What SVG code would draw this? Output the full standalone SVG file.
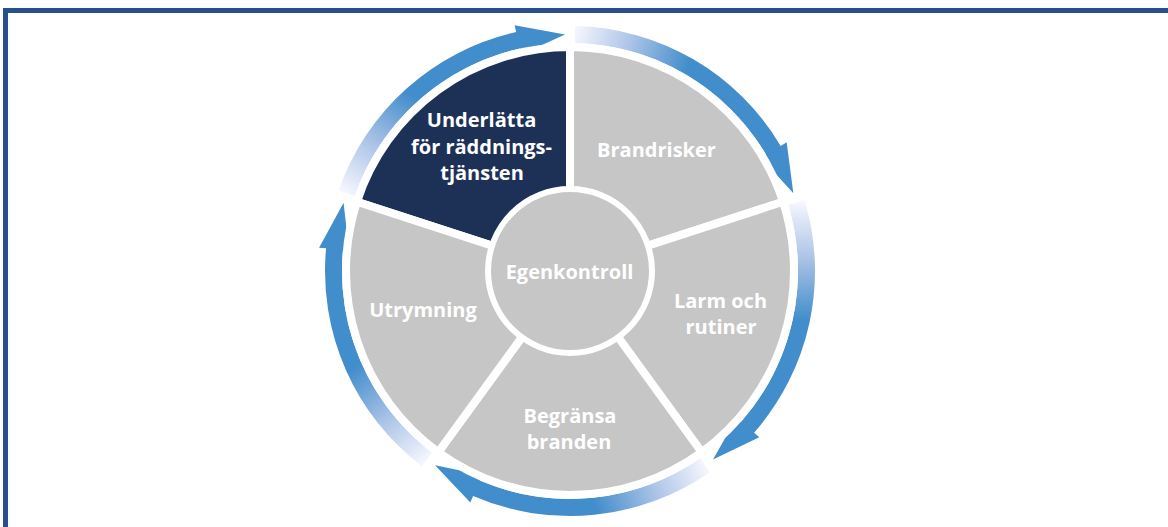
<svg xmlns="http://www.w3.org/2000/svg" xmlns:xlink="http://www.w3.org/1999/xlink" width="1168" height="527" viewBox="0 0 1168 527">
  <style>
    .seg { fill: #c6c6c6; stroke: #ffffff; stroke-width: 8; stroke-linejoin: miter; }
    .dark { fill: #1d3157; }
    .lbl { font-family: "Open Sans", "Liberation Sans", sans-serif; font-weight: bold; font-size: 20px; fill: #ffffff; text-anchor: middle; }
  </style>
  <defs>
    <linearGradient id="arrowGrad" gradientUnits="userSpaceOnUse" x1="346.6" y1="193.2" x2="412.1" y2="95.6">
      <stop offset="0" stop-color="#f4f6fd"/>
      <stop offset="0.45" stop-color="#b0c6e8"/>
      <stop offset="1" stop-color="#428dcb"/>
    </linearGradient>
    <path id="arrow" fill="url(#arrowGrad)" d="M338.63,190.43 A245,245 0 0 1 516.14,32.00 L514.60,25.17 L565.05,34.55 L521.19,54.43 L519.87,48.58 A228,228 0 0 0 354.68,196.02 Z"/>
  </defs>
  <rect x="5.5" y="10.5" width="1200" height="600" fill="none" stroke="#25508a" stroke-width="5"/>

  <g id="connectors">
    <use xlink:href="#arrow" href="#arrow"/>
    <use xlink:href="#arrow" href="#arrow" transform="rotate(72 570 271)"/>
    <use xlink:href="#arrow" href="#arrow" transform="rotate(144 570 271)"/>
    <use xlink:href="#arrow" href="#arrow" transform="rotate(216 570 271)"/>
    <use xlink:href="#arrow" href="#arrow" transform="rotate(288 570 271)"/>
  </g>

  <g id="node-underlatta">
    <path class="seg dark" d="M570,271 L356.96,201.78 A224,224 0 0 1 570,47 Z"/>
    <text class="lbl" x="481.5" y="127">Underlätta</text>
    <text class="lbl" x="481.5" y="153.5">för räddnings-</text>
    <text class="lbl" x="482" y="180">tjänsten</text>
  </g>
  <g id="node-brandrisker">
    <path class="seg" d="M570,271 L570,47 A224,224 0 0 1 783.04,201.78 Z"/>
    <text class="lbl" x="656.5" y="157">Brandrisker</text>
  </g>
  <g id="node-larm">
    <path class="seg" d="M570,271 L783.04,201.78 A224,224 0 0 1 701.66,452.22 Z"/>
    <text class="lbl" x="720.5" y="307.5">Larm och</text>
    <text class="lbl" x="721" y="334">rutiner</text>
  </g>
  <g id="node-begransa">
    <path class="seg" d="M570,271 L701.66,452.22 A224,224 0 0 1 438.34,452.22 Z"/>
    <text class="lbl" x="570" y="422.5">Begränsa</text>
    <text class="lbl" x="569" y="449">branden</text>
  </g>
  <g id="node-utrymning">
    <path class="seg" d="M570,271 L438.34,452.22 A224,224 0 0 1 356.96,201.78 Z"/>
    <text class="lbl" x="423" y="317">Utrymning</text>
  </g>
  <g id="node-egenkontroll">
    <circle cx="570" cy="271" r="82" fill="#c6c6c6" stroke="#ffffff" stroke-width="6"/>
    <text class="lbl" x="569.5" y="279">Egenkontroll</text>
  </g>
</svg>
